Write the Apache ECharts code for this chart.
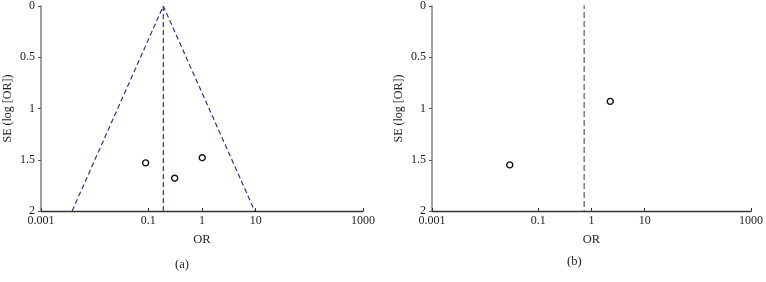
<!DOCTYPE html>
<html>
<head>
<meta charset="utf-8">
<script src="https://cdn.jsdelivr.net/npm/echarts@6/dist/echarts.min.js"></script>
<style>html,body{margin:0;padding:0;background:#fff;}#c{width:766px;height:282px;}</style>
</head>
<body>
<div id="c"></div>
<script>
// Tick labels
var xTicks = [0.001, 0.1, 1, 10, 1000];
var yTicks = [0, 0.5, 1, 1.5, 2];
// Panel (a): studies [OR, SE]
var studiesA = [[0.089, 1.53], [0.31, 1.68], [1.01, 1.48]];
// Panel (a): pooled OR line and funnel limits [OR, SE]
var pooledA = [[0.19, 0], [0.19, 2]];
var funnelA = [[0.0038, 2], [0.19, 0], [9.6, 2]];
// Panel (b): studies [OR, SE]
var studiesB = [[0.029, 1.55], [2.25, 0.93]];
// Panel (b): pooled OR line
var pooledB = [[0.73, -0.03], [0.73, 2]];

var font = 'Liberation Serif';
var txt = '#222';
function xAxis(gi) {
  return {
    gridIndex: gi, type: 'log', logBase: 10, min: 0.001, max: 1000, position: 'bottom',
    name: 'OR', nameLocation: 'middle', nameGap: 22,
    nameTextStyle: {fontFamily: font, fontSize: 12.5, color: txt},
    axisLine: {show: true, onZero: false, lineStyle: {color: '#333', width: 1.3}},
    axisTick: {show: true, length: 3, inside: true, customValues: xTicks, lineStyle: {color: '#333'}},
    axisLabel: {customValues: xTicks, fontFamily: font, fontSize: 12, color: txt, margin: 4,
      formatter: function (v) { return String(v); }},
    splitLine: {show: false}, minorTick: {show: false}
  };
}
function yAxis(gi) {
  return {
    gridIndex: gi, type: 'value', inverse: true, min: 0, max: 2, interval: 0.5,
    name: 'SE (log [OR])', nameLocation: 'middle', nameGap: 27, nameRotate: 90,
    nameTextStyle: {fontFamily: font, fontSize: 12, color: txt},
    axisLine: {show: true, onZero: false, lineStyle: {color: '#808080', width: 1.5}},
    axisTick: {show: true, length: 3, lineStyle: {color: '#555'}},
    axisLabel: {customValues: yTicks, fontFamily: font, fontSize: 12, color: txt, margin: 6,
      formatter: function (v) { return String(v); }},
    splitLine: {show: false}
  };
}
var chart = echarts.init(document.getElementById('c'), null, {renderer: 'canvas'});
chart.setOption({
  animation: false,
  backgroundColor: '#fff',
  grid: [
    {left: 41, top: 5, width: 322, height: 206},
    {left: 432, top: 5, width: 322, height: 206}
  ],
  xAxis: [xAxis(0), xAxis(1)],
  yAxis: [yAxis(0), yAxis(1)],
  graphic: [
    {type: 'text', left: 175, top: 258, style: {text: '(a)', font: '12.5px ' + font, fill: txt}},
    {type: 'text', left: 567, top: 255, style: {text: '(b)', font: '12.5px ' + font, fill: txt}}
  ],
  series: [
    {type: 'line', xAxisIndex: 0, yAxisIndex: 0, data: funnelA, showSymbol: false, symbol: 'none',
      lineStyle: {color: '#33338a', width: 1.2, type: [5, 3]}, z: 2},
    {type: 'line', xAxisIndex: 0, yAxisIndex: 0, data: pooledA, showSymbol: false, symbol: 'none',
      lineStyle: {color: '#33338a', width: 1.2, type: [5, 3]}, z: 2},
    {type: 'scatter', xAxisIndex: 0, yAxisIndex: 0, data: studiesA, symbol: 'circle', symbolSize: 6,
      itemStyle: {color: '#ffffff', borderColor: '#111111', borderWidth: 1.4, opacity: 1}, z: 5},
    {type: 'line', xAxisIndex: 1, yAxisIndex: 1, data: pooledB, showSymbol: false, symbol: 'none',
      lineStyle: {color: '#7f7fa8', width: 1.6, type: [6, 3]}, z: 2},
    {type: 'scatter', xAxisIndex: 1, yAxisIndex: 1, data: studiesB, symbol: 'circle', symbolSize: 6,
      itemStyle: {color: '#ffffff', borderColor: '#111111', borderWidth: 1.4, opacity: 1}, z: 5}
  ]
});
</script>
</body>
</html>
